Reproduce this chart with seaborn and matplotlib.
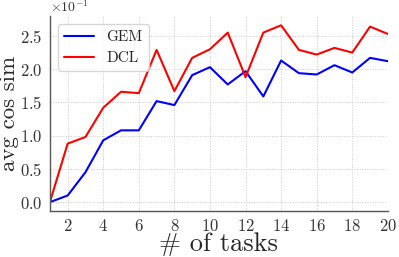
import pandas as pd
import matplotlib.pyplot as plt
import seaborn as sns
from matplotlib.ticker import MultipleLocator

tasks = list(range(1, 21))
gem = [0.0, 0.10, 0.45, 0.93, 1.08, 1.08, 1.52, 1.46, 1.91, 2.03,
       1.77, 1.97, 1.59, 2.13, 1.94, 1.92, 2.06, 1.95, 2.17, 2.12]
dcl = [0.0, 0.88, 0.98, 1.42, 1.66, 1.64, 2.29, 1.67, 2.17, 2.30,
       2.55, 1.88, 2.55, 2.66, 2.29, 2.22, 2.32, 2.25, 2.64, 2.53]

df = pd.DataFrame({
    "task": tasks * 2,
    "sim": [v / 10 for v in gem] + [v / 10 for v in dcl],
    "method": ["GEM"] * len(tasks) + ["DCL"] * len(tasks),
})

sns.set_style("whitegrid")
plt.rcParams["font.family"] = "serif"
plt.rcParams["font.serif"] = ["cmr10"]
plt.rcParams["mathtext.fontset"] = "cm"
plt.rcParams["axes.formatter.use_mathtext"] = True

fig = plt.figure(figsize=(3.99, 2.57), dpi=100)
ax = fig.add_axes([0.125, 0.179, 0.847, 0.757])
sns.lineplot(data=df, x="task", y="sim", hue="method",
             palette={"GEM": "blue", "DCL": "red"}, linewidth=1.5, ax=ax)

ax.set_xlim(1, 20)
ax.set_xticks(range(2, 21, 2))
ax.yaxis.set_major_locator(MultipleLocator(0.05))
ax.ticklabel_format(style="sci", axis="y", scilimits=(0, 0))
ax.yaxis.get_offset_text().set_visible(False)
ax.text(0.0, 1.005, r"$\times10^{-1}$", transform=ax.transAxes,
        fontsize=10, color="#333333", va="bottom", ha="left")
ax.tick_params(labelsize=12, length=3, color="#555555", labelcolor="#333333", pad=2)
ax.grid(True, linestyle=":", linewidth=0.7, color="#c8c8c8")
sns.despine(ax=ax)
for s in ["left", "bottom"]:
    ax.spines[s].set_color("#555555")
    ax.spines[s].set_linewidth(1.0)

ax.set_xlabel("# of tasks", fontsize=19, labelpad=-1)
ax.set_ylabel("avg cos sim", fontsize=16.5, labelpad=1)
ax.legend(loc="upper left", fontsize=11, title=None, handlelength=2.0,
          fancybox=True, framealpha=0.8, borderaxespad=0.5)

plt.savefig("out.png", dpi=100)
